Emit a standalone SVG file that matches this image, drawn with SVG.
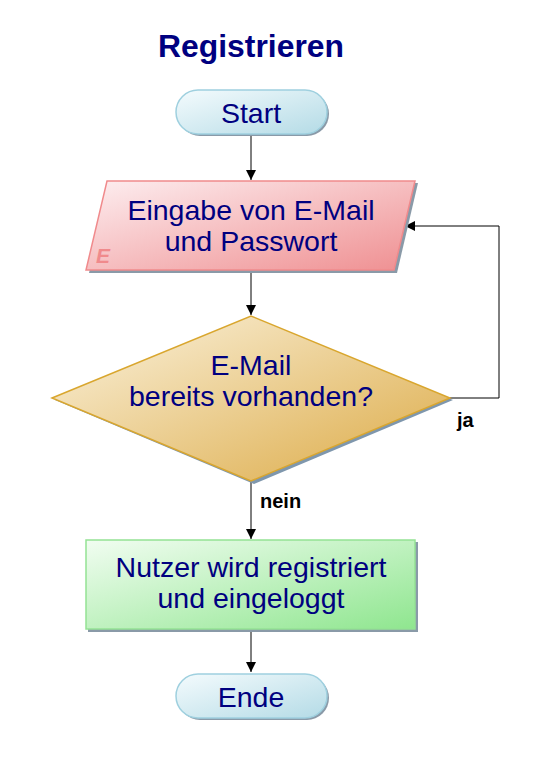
<svg xmlns="http://www.w3.org/2000/svg" width="543" height="763" viewBox="0 0 543 763">
<defs>
<linearGradient id="gBlue" x1="0" y1="0" x2="1" y2="1"><stop offset="0" stop-color="#f4fbfd"/><stop offset="1" stop-color="#b4dbe6"/></linearGradient>
<linearGradient id="gRed" x1="0" y1="0" x2="1" y2="1"><stop offset="0" stop-color="#fdeef0"/><stop offset="1" stop-color="#ef8f91"/></linearGradient>
<linearGradient id="gGold" x1="0" y1="0" x2="1" y2="1"><stop offset="0" stop-color="#fbf3df"/><stop offset="1" stop-color="#dcaa45"/></linearGradient>
<linearGradient id="gGreen" x1="0" y1="0" x2="1" y2="1"><stop offset="0" stop-color="#f1fdf1"/><stop offset="1" stop-color="#8fe68f"/></linearGradient>
<marker id="arr" viewBox="0 0 10 10" refX="10" refY="5" markerWidth="10" markerHeight="10" markerUnits="userSpaceOnUse" orient="auto"><path d="M0,0 L10,5 L0,10 Z" fill="#000"/></marker>
</defs>
<style>
.t{font-family:"Liberation Sans",Arial,sans-serif;font-size:28.5px;fill:#000080;text-anchor:middle}
.lbl{font-family:"Liberation Sans",Arial,sans-serif;font-size:20px;font-weight:bold;fill:#000}
.c{fill:none;stroke:#000;stroke-width:1}
.sh{fill:#8a9aa8}
</style>
<rect width="543" height="763" fill="#fff"/>
<text x="251" y="57" class="t" style="font-size:31.5px;font-weight:bold" textLength="186" lengthAdjust="spacingAndGlyphs">Registrieren</text>
<g id="connectors">
<path class="c" d="M251,135 V180" marker-end="url(#arr)"/>
<path class="c" d="M251,271 V315" marker-end="url(#arr)"/>
<path class="c" d="M251,482 V539" marker-end="url(#arr)"/>
<path class="c" d="M251,631 V672" marker-end="url(#arr)"/>
<path class="c" d="M450,398 H499 V226 H405" marker-end="url(#arr)"/>
<text x="457" y="427" class="lbl">ja</text>
<text x="260" y="508" class="lbl">nein</text>
</g>
<g id="start">
<rect x="178" y="92" width="151" height="44" rx="22" class="sh"/>
<rect x="176" y="90" width="151" height="44" rx="22" fill="url(#gBlue)" stroke="#9fd0df" stroke-width="1.5"/>
<text x="251" y="123" class="t">Start</text>
</g>
<g id="eingabe">
<polygon points="110,183 418,183 397,273 89,273" class="sh"/>
<polygon points="107,181 415,181 394,270 86,270" fill="url(#gRed)" stroke="#f08a8c" stroke-width="1.5"/>
<text x="251" y="220" class="t">Eingabe von E-Mail</text>
<text x="251" y="251" class="t">und Passwort</text>
<text x="96" y="263" style="font-family:'Liberation Sans',Arial,sans-serif;font-size:21px;font-weight:bold;font-style:italic;fill:#f08a8c">E</text>
</g>
<g id="pruefung">
<polygon points="55,400 254,318 453,400 254,484" fill="#7f97ad"/>
<polygon points="52,398 251,316 450,398 251,481" fill="url(#gGold)" stroke="#d9a62e" stroke-width="1.5"/>
<text x="251" y="375" class="t">E-Mail</text>
<text x="251" y="406" class="t">bereits vorhanden?</text>
</g>
<g id="registrieren">
<rect x="88" y="542" width="330" height="90" class="sh"/>
<rect x="86" y="540" width="329" height="89" fill="url(#gGreen)" stroke="#94e294" stroke-width="1.5"/>
<text x="251" y="577" class="t">Nutzer wird registriert</text>
<text x="251" y="608" class="t">und eingeloggt</text>
</g>
<g id="ende">
<rect x="178" y="676" width="151" height="44" rx="22" class="sh"/>
<rect x="176" y="674" width="151" height="44" rx="22" fill="url(#gBlue)" stroke="#9fd0df" stroke-width="1.5"/>
<text x="251" y="707" class="t">Ende</text>
</g>
</svg>
